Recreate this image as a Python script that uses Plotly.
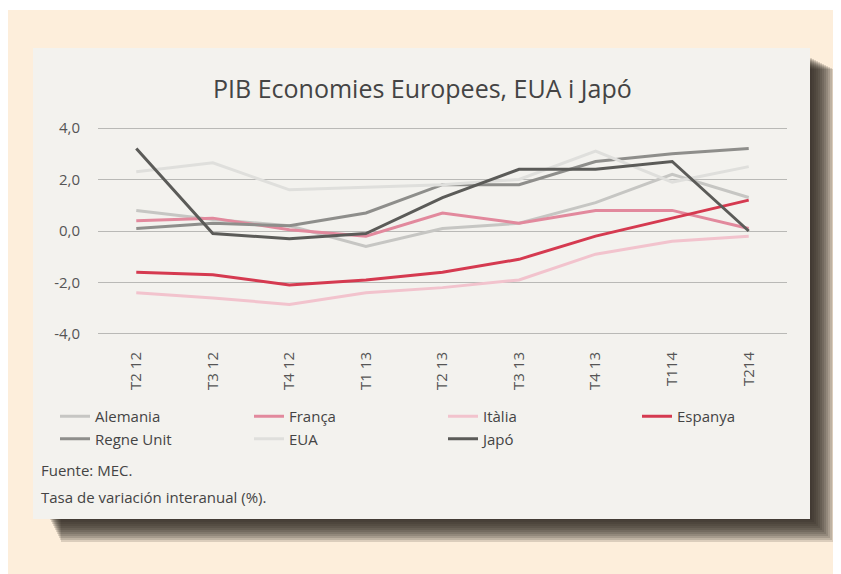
import plotly.graph_objects as go

# ---- data ----
categories = ["T2 12", "T3 12", "T4 12", "T1 13", "T2 13", "T3 13", "T4 13", "T114", "T214"]
alemania = [0.8, 0.45, 0.2, -0.6, 0.1, 0.3, 1.1, 2.2, 1.3]
franca = [0.4, 0.5, 0.05, -0.2, 0.7, 0.3, 0.8, 0.8, 0.1]
italia = [-2.4, -2.6, -2.85, -2.4, -2.2, -1.9, -0.9, -0.4, -0.2]
espanya = [-1.6, -1.7, -2.1, -1.9, -1.6, -1.1, -0.2, 0.5, 1.2]
regne_unit = [0.1, 0.3, 0.2, 0.7, 1.8, 1.8, 2.7, 3.0, 3.2]
eua = [2.3, 2.65, 1.6, 1.7, 1.8, 2.0, 3.1, 1.9, 2.5]
japo = [3.2, -0.1, -0.3, -0.1, 1.3, 2.4, 2.4, 2.7, 0.0]
y_tickvals = [4, 2, 0, -2, -4]
y_ticktext = ["4,0", "2,0", "0,0", "-2,0", "-4,0"]

series = [
    ("Alemania", alemania, "#c6c6c3"),
    ("França", franca, "#e2899d"),
    ("Itàlia", italia, "#f2c3cd"),
    ("Espanya", espanya, "#d53a50"),
    ("Regne Unit", regne_unit, "#8e8e8b"),
    ("EUA", eua, "#dfdfdc"),
    ("Japó", japo, "#5b5b58"),
]

OFF = 8  # page body margin
W, H = 841 - OFF, 574 - OFF
# plot area in page pixels
PL, PR, PT, PB = 98, 787, 127, 335
FONT = "Open Sans, Lato, sans-serif"
TXT = "#444444"

def px_x(p):
    return (p - PL) / (PR - PL)

def px_y(p):
    return (PB - p) / (PB - PT)

fig = go.Figure()
for name, vals, col in series:
    fig.add_trace(go.Scatter(x=categories, y=vals, mode="lines", name=name,
                             line=dict(color=col, width=3)))

shapes = []
# beige background
shapes.append(dict(type="rect", xref="paper", yref="paper", layer="below",
                   x0=px_x(4), x1=px_x(850), y0=px_y(10), y1=px_y(580),
                   fillcolor="#fdeedb", line=dict(width=0)))
# drop shadow (layered for soft edge)
for k in range(12):
    shapes.append(dict(type="rect", xref="paper", yref="paper", layer="below",
                       x0=px_x(50 + k), x1=px_x(812 + 2 * k),
                       y0=px_y(58 + k), y1=px_y(520 + 2 * k),
                       fillcolor="rgba(45,38,32,0.16)", line=dict(width=0)))
# panel
shapes.append(dict(type="rect", xref="paper", yref="paper", layer="below",
                   x0=px_x(33), x1=px_x(810), y0=px_y(48), y1=px_y(519),
                   fillcolor="#f3f2ee", line=dict(width=0)))

annotations = [
    dict(text="PIB Economies Europees, EUA i Japó", xref="paper", yref="paper",
         x=px_x(422), y=px_y(88), xanchor="center", yanchor="middle", showarrow=False,
         font=dict(family=FONT, size=25, color=TXT)),
    dict(text="Fuente: MEC.", xref="paper", yref="paper",
         x=px_x(39), y=px_y(470), xanchor="left", yanchor="middle", showarrow=False,
         font=dict(family=FONT, size=15, color=TXT)),
    dict(text="Tasa de variación interanual (%).", xref="paper", yref="paper",
         x=px_x(39), y=px_y(497), xanchor="left", yanchor="middle", showarrow=False,
         font=dict(family=FONT, size=15, color=TXT)),
]

fig.update_layout(
    width=W, height=H,
    margin=dict(l=PL - OFF, r=W - (PR - OFF), t=PT - OFF, b=H - (PB - OFF), pad=0),
    paper_bgcolor="white", plot_bgcolor="rgba(0,0,0,0)",
    shapes=shapes, annotations=annotations,
    showlegend=True,
    legend=dict(orientation="h", x=px_x(55), y=px_y(400), xanchor="left", yanchor="top",
                entrywidth=149, entrywidthmode="pixels", bgcolor="rgba(0,0,0,0)",
                font=dict(family=FONT, size=15, color=TXT), tracegroupgap=0,
                traceorder="normal"),
    font=dict(family=FONT, color=TXT),
)
fig.update_xaxes(type="category", showgrid=False, showline=False, zeroline=False,
                 tickangle=-90, ticks="outside", ticklen=10, tickcolor="rgba(0,0,0,0)",
                 tickfont=dict(family=FONT, size=15, color="#555555"),
                 range=[-0.5, len(categories) - 0.5])
fig.update_yaxes(range=[-4.04, 4.04], tickvals=y_tickvals, ticktext=y_ticktext,
                 showgrid=True, gridcolor="#b9b9b6", gridwidth=1, zeroline=False,
                 showline=False, ticks="outside", ticklen=14, tickcolor="rgba(0,0,0,0)",
                 tickfont=dict(family=FONT, size=15, color="#555555"))

fig.write_html("out.html")
